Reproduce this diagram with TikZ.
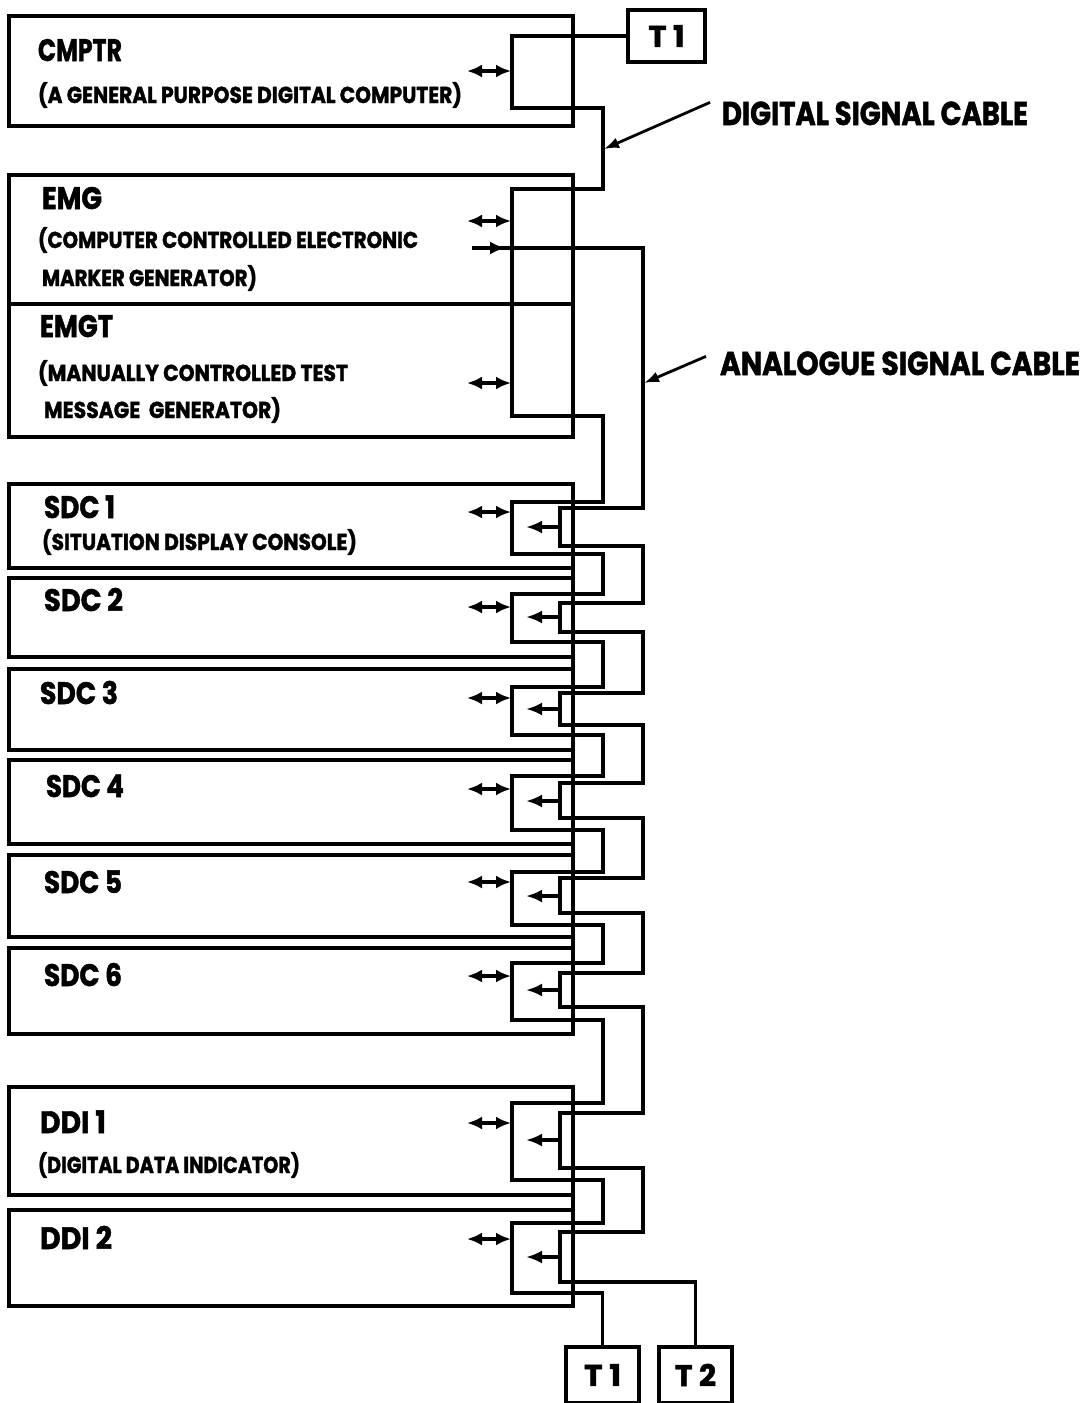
\documentclass[tikz,border=0pt]{standalone}
\usepackage{fontspec}
\usepackage{graphicx}
\usetikzlibrary{arrows.meta}
\newfontfamily\fut{Poppins}[FakeBold=1.6]
\newsavebox\fitbox
\newcommand\fitw[2]{\sbox\fitbox{#2}\edef\fitwd{\the\wd\fitbox}\pgfmathsetmacro\fitsx{#1/\fitwd}\scalebox{\fitsx}[1]{\usebox\fitbox}}
\begin{document}
\begin{tikzpicture}[x=1pt,y=-1pt,line width=3.4pt,
  every node/.style={inner sep=0pt,outer sep=0pt},
  unit/.style={draw,line width=3.4pt,anchor=north west,minimum width=564pt},
  tbox/.style={draw,line width=3.4pt,font=\fut\bfseries\fontsize{30}{30}\selectfont},
  head/.style={anchor=base west,font=\fut\bfseries\fontsize{31}{31}\selectfont},
  sub/.style={anchor=base west,font=\fut\bfseries\fontsize{23}{23}\selectfont},
  lbl/.style={anchor=base west,font=\fut\bfseries\fontsize{33}{33}\selectfont},
  darr/.style={line width=3.4pt,{Latex[length=15pt,width=13pt]}-{Latex[length=15pt,width=13pt]}},
  sarr/.style={line width=3.4pt,-{Latex[length=16pt,width=13pt]}},
  cable/.style={line width=3.4pt,line join=miter}]
\useasboundingbox (0,0) rectangle (1085,1403);
% ---- main units
\node[unit,minimum height=110pt] (cmptr) at (9,16) {};
\node[unit,minimum height=129pt] (emg) at (9,175) {};
\node[unit,minimum height=133pt] (emgt) at (9,304) {};
\node[unit,minimum height=84pt] (sdc1) at (9,484) {};
\node[unit,minimum height=79pt] (sdc2) at (9,578) {};
\node[unit,minimum height=81pt] (sdc3) at (9,669) {};
\node[unit,minimum height=84pt] (sdc4) at (9,760) {};
\node[unit,minimum height=82pt] (sdc5) at (9,855) {};
\node[unit,minimum height=86pt] (sdc6) at (9,948) {};
\node[unit,minimum height=108pt] (ddi1) at (9,1087) {};
\node[unit,minimum height=96pt] (ddi2) at (9,1210) {};
\draw (sdc1.north east) -- (sdc6.south east);
\draw (ddi1.north east) -- (ddi2.south east);
% ---- terminals
\node[tbox,minimum width=77pt,minimum height=52pt] (t1a) at (666.5,36) {\fitw{36}{T 1}};
\node[tbox,minimum width=73pt,minimum height=56pt] (t1b) at (602.5,1375) {\fitw{37}{T 1}};
\node[tbox,minimum width=73pt,minimum height=56pt] (t2) at (695.5,1375) {\fitw{41}{T 2}};
% ---- texts
\node[head] (cmptrT) at (38,61) {\fitw{84}{CMPTR}};
\node[sub] (cmptrS) at (38,103) {\fitw{424}{(A GENERAL PURPOSE DIGITAL COMPUTER)}};
\node[head] (emgT) at (42,209) {\fitw{60}{EMG}};
\node[sub] (emgS1) at (38,248) {\fitw{380}{(COMPUTER CONTROLLED ELECTRONIC}};
\node[sub] (emgS2) at (42,286) {\fitw{215}{MARKER GENERATOR)}};
\node[head] (emgtT) at (40,337) {\fitw{73}{EMGT}};
\node[sub] (emgtS1) at (38,381) {\fitw{310}{(MANUALLY CONTROLLED TEST}};
\node[sub] (emgtS2) at (44,418) {\fitw{237}{MESSAGE\ \ GENERATOR)}};
\node[head] (sdc1T) at (44,518) {\fitw{71}{SDC 1}};
\node[sub] (sdc1S) at (42,550) {\fitw{315}{(SITUATION DISPLAY CONSOLE)}};
\node[head] (sdc2T) at (44,611) {\fitw{79}{SDC 2}};
\node[head] (sdc3T) at (40,704) {\fitw{78}{SDC 3}};
\node[head] (sdc4T) at (46,797) {\fitw{78}{SDC 4}};
\node[head] (sdc5T) at (44,893) {\fitw{78}{SDC 5}};
\node[head] (sdc6T) at (44,986) {\fitw{78}{SDC 6}};
\node[head] (ddi1T) at (40,1133) {\fitw{66}{DDI 1}};
\node[sub] (ddi1S) at (38,1173) {\fitw{262}{(DIGITAL DATA INDICATOR)}};
\node[head] (ddi2T) at (40,1249) {\fitw{72}{DDI 2}};
\node[lbl] (dlab) at (722,125) {\fitw{306}{DIGITAL SIGNAL CABLE}};
\node[lbl] (alab) at (720,375) {\fitw{360}{ANALOGUE SIGNAL CABLE}};
% ---- digital signal cable
\draw[cable] (t1a.west) -- (512,36) -- (512,108) -- (603,108) -- (603,189) -- (512,189)
  -- (512,416) -- (603,416) -- (603,502) -- (512,502) -- (512,554) -- (603,554)
  -- (603,594) -- (512,594) -- (512,642) -- (603,642) -- (603,687) -- (512,687)
  -- (512,735) -- (603,735) -- (603,776) -- (512,776) -- (512,830) -- (603,830)
  -- (603,872) -- (512,872) -- (512,925) -- (603,925) -- (603,963) -- (512,963)
  -- (512,1020) -- (603,1020) -- (603,1103) -- (512,1103) -- (512,1180) -- (603,1180)
  -- (603,1223) -- (512,1223) -- (512,1293) -- (602.5,1293) -- (t1b.north);
% ---- analogue signal cable
\coordinate (emgout) at (472,248);
\draw[sarr] (emgout) -- (506,248);
\draw[cable] (496,248) -- (643,248) -- (643,508) -- (560,508) -- (560,546) -- (643,546)
  -- (643,603) -- (560,603) -- (560,632) -- (643,632) -- (643,693) -- (560,693)
  -- (560,725) -- (643,725) -- (643,783) -- (560,783) -- (560,818) -- (643,818)
  -- (643,878) -- (560,878) -- (560,913) -- (643,913) -- (643,973) -- (560,973)
  -- (560,1007) -- (643,1007) -- (643,1113) -- (560,1113) -- (560,1168) -- (643,1168)
  -- (643,1232) -- (560,1232) -- (560,1282) -- (695.5,1282) -- (t2.north);
% ---- double arrows (digital ports)
\foreach \yy/\nm in {71/pc,221/pe,383/pt,512/p1,607/p2,698/p3,789/p4,882/p5,976/p6,1123/pd1,1239/pd2}{
  \coordinate (\nm a) at (467,\yy);
  \coordinate (\nm b) at (511,\yy);
  \draw[darr] (\nm a) -- (\nm b);
}
% ---- single arrows (analogue ports)
\foreach \yy/\nm in {527/q1,617/q2,709/q3,801/q4,896/q5,990/q6,1140/qd1,1257/qd2}{
  \coordinate (\nm a) at (559,\yy);
  \coordinate (\nm b) at (526,\yy);
  \draw[sarr] (\nm a) -- (\nm b);
}
% ---- label pointers
\coordinate (dpt) at (604,149);
\coordinate (apt) at (644,383);
\draw[-{Latex[length=15pt,width=11pt]},line width=2.8pt] (dlab.west) ++(-12,-11) -- (dpt);
\draw[-{Latex[length=15pt,width=11pt]},line width=2.8pt] (alab.west) ++(-14,-7) -- (apt);
\end{tikzpicture}
\end{document}
